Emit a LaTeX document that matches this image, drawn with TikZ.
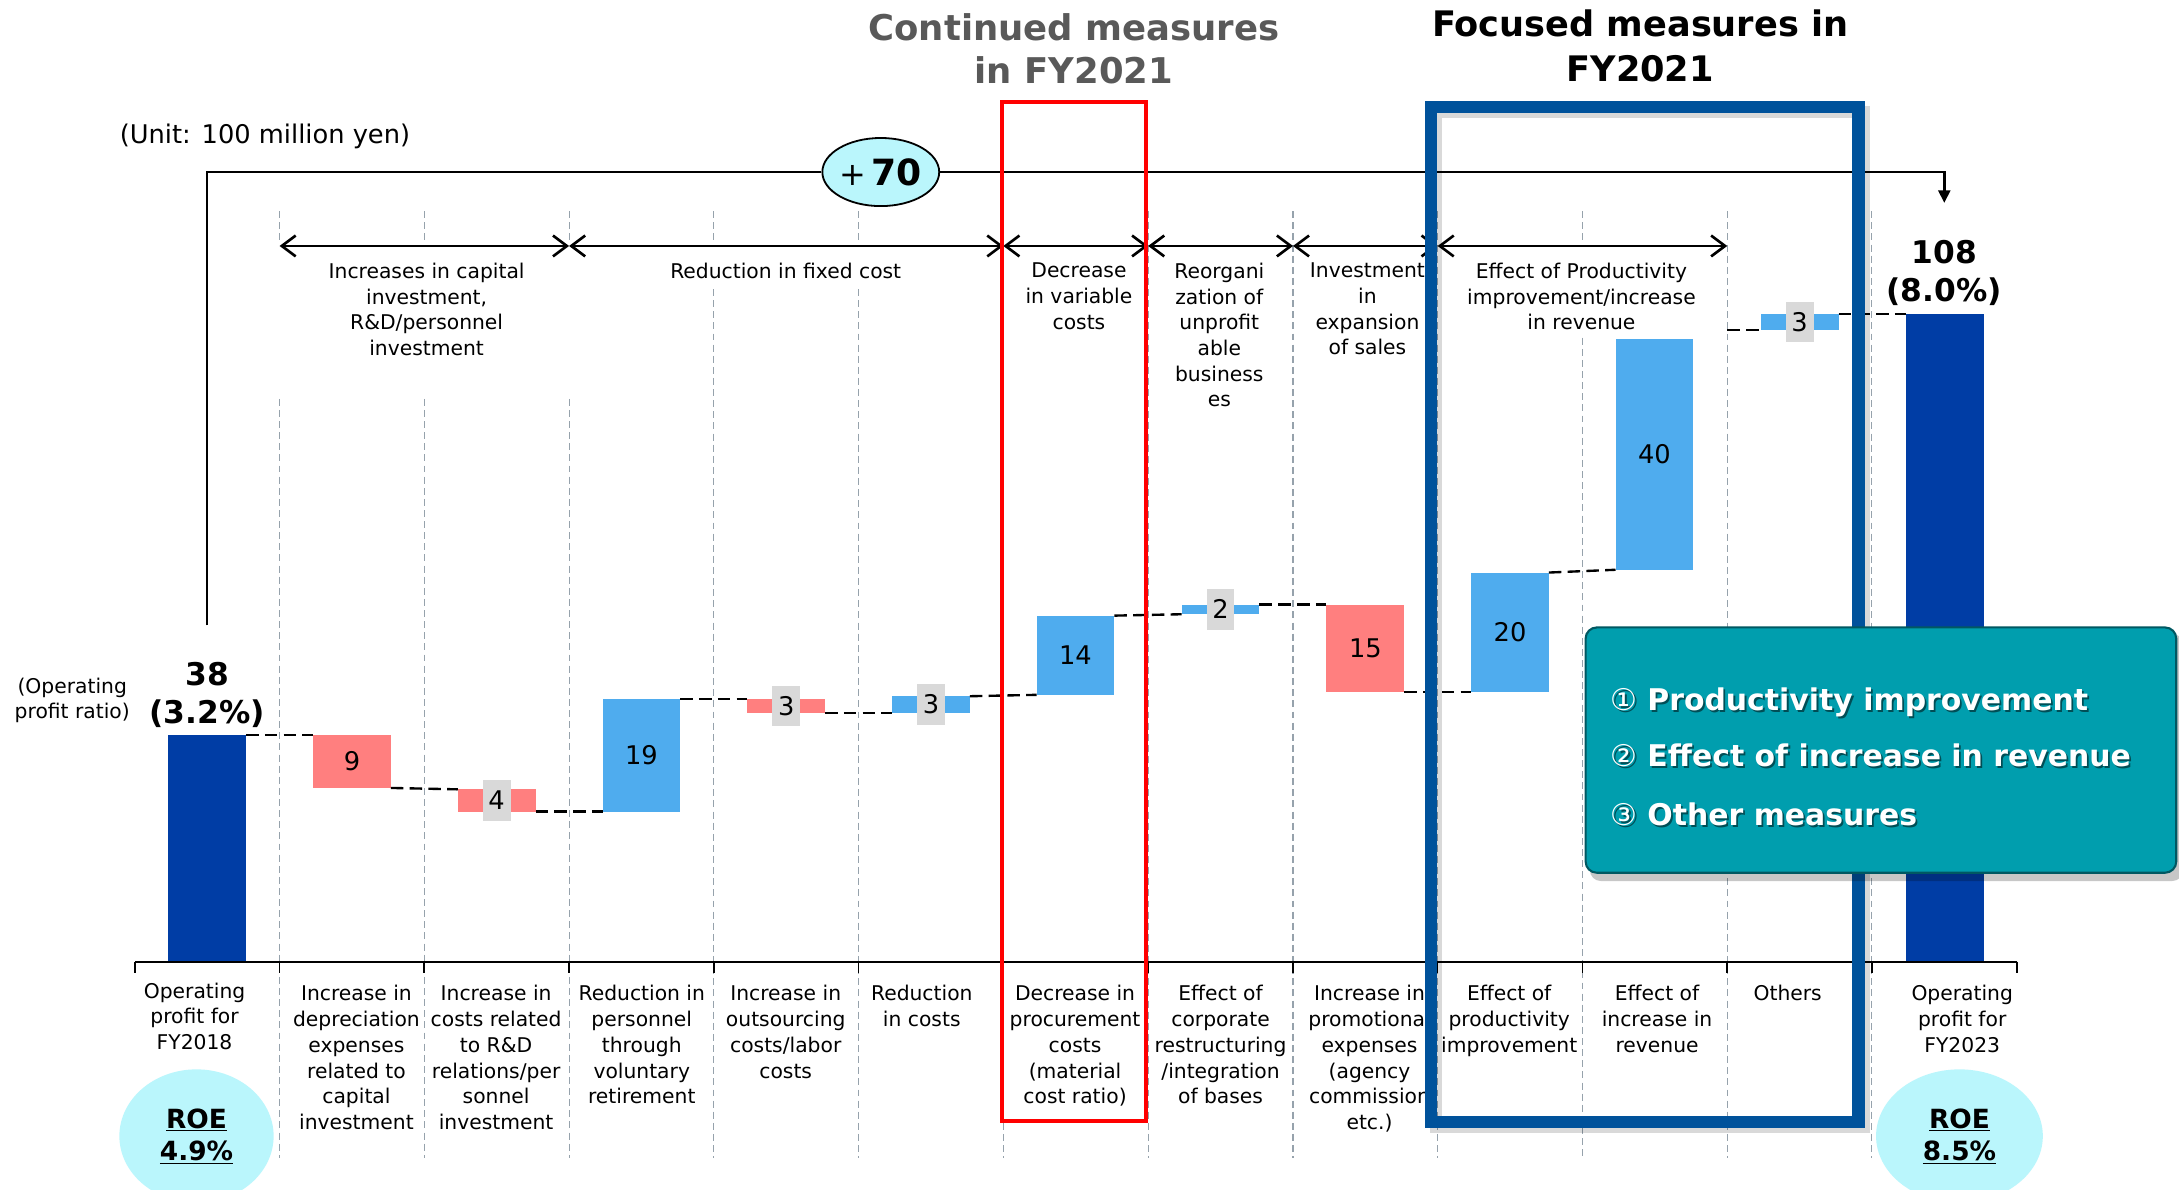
\documentclass[tikz,border=0pt]{standalone}
\usepackage{fontspec}
\setmainfont{DejaVu Sans}
\usetikzlibrary{arrows.meta,shapes.geometric}
\definecolor{dblue}{RGB}{0,61,165}
\definecolor{lblue}{RGB}{79,172,238}
\definecolor{pinkr}{RGB}{255,127,127}
\definecolor{lgray}{RGB}{217,217,217}
\definecolor{cyanl}{RGB}{186,246,252}
\definecolor{tealb}{RGB}{0,158,174}
\definecolor{tealdark}{RGB}{0,88,98}
\definecolor{frameblue}{RGB}{0,82,155}
\definecolor{sepgray}{RGB}{150,162,172}
\definecolor{titlegray}{RGB}{89,89,89}
\newcommand\setfs[2]{\fontsize{#1pt}{#2pt}\selectfont}
\begin{document}
\begin{tikzpicture}[x=1pt,y=-1pt,
  barbox/.style={draw=none,inner sep=0pt,outer sep=0pt,minimum width=56pt,font=\setfs{18.5}{20}},
  tagbox/.style={fill=lgray,inner sep=0pt,outer sep=0pt,minimum width=20pt,minimum height=29pt,font=\setfs{18.5}{20}},
  connline/.style={black,line width=1.7pt,dash pattern=on 9pt off 4.5pt},
  sepline/.style={sepgray,line width=0.8pt,dash pattern=on 5pt off 3pt},
  spanarrow/.style={line width=1.9pt,{Straight Barb[length=10pt,width=15pt]}-{Straight Barb[length=10pt,width=15pt]}},
  lbltext/.style={align=center,anchor=north,inner sep=0pt,font=\setfs{14.6}{18.5}},
  bigval/.style={align=center,anchor=north,inner sep=0pt,font=\bfseries\setfs{22.5}{27.5}},
  roetext/.style={ellipse,fill=cyanl,inner sep=0pt,minimum height=96pt,align=center,font=\bfseries\setfs{19}{23.4}},
  calltext/.style={anchor=base west,inner sep=0pt,font=\bfseries\setfs{21.5}{21.5}},
]
\useasboundingbox (0,0) rectangle (1568,856);
\clip (0,0) rectangle (1568,856);
\fill[white] (0,0) rectangle (1568,856);

% dashed column separators
\foreach \x/\a/\b in {201.2/152/175, 201.2/287/833, 305.3/152/175, 305.3/287/833,
  409.5/152/175, 409.5/287/833, 513.7/152/175, 513.7/208/833, 617.8/152/175, 617.8/208/833,
  722/152/833, 826.2/152/833, 930.4/152/833, 1034.5/152/833, 1138.7/152/175, 1138.7/243/833,
  1242.9/152/833, 1347/152/833}
  \draw[sepline] (\x,\a) -- (\x,\b);

% titles and unit
\node[align=center,anchor=north,inner sep=0pt,text=titlegray,font=\bfseries\setfs{25.5}{31.4}] (ttl1) at (772.8,9.4) {Continued measures\\in FY2021};
\node[align=center,anchor=north,inner sep=0pt,font=\bfseries\setfs{25.3}{32.4}] (ttl2) at (1180.3,7) {Focused measures in\\FY2021};
\node[anchor=west,inner sep=0pt,font=\setfs{18.5}{20}] (unit) at (86,98.4) {(Unit: 100 million yen)};

% total bracket with +70
\node[ellipse,draw=black,line width=1.3pt,fill=cyanl,minimum width=78pt,minimum height=49pt,inner sep=0pt] (plus) at (633.8,123.8) {{\setfs{23}{23}+}\hspace{4pt}{\bfseries\setfs{26}{26}70}};
\coordinate (bk0) at (149.1,450);
\coordinate (bk1) at (1399.1,146);
\draw[line width=1.8pt] (bk0) |- (plus.west);
\draw[line width=2pt,-{Triangle[length=9pt,width=8.5pt]}] (plus.east) -| (bk1);

% span arrows
\coordinate (p0) at (201.2,177);
\coordinate (p1) at (409.5,177);
\coordinate (p2) at (722,177);
\coordinate (p3) at (826.2,177);
\coordinate (p4) at (930.4,177);
\coordinate (p5) at (1034.5,177);
\coordinate (p6) at (1242.9,177);
\draw[spanarrow] (p0) -- (p1);
\draw[spanarrow] (p1) -- (p2);
\draw[spanarrow] (p2) -- (p3);
\draw[spanarrow] (p3) -- (p4);
\draw[spanarrow] (p4) -- (p5);
\draw[spanarrow] (p5) -- (p6);

% span labels
\node[lbltext] (t1) at (307,189) {Increases in capital\\investment,\\R\&D/personnel\\investment};
\node[lbltext] (t2) at (565.4,189) {Reduction in fixed cost};
\node[lbltext] (t3) at (776.4,189) {Decrease\\in variable\\costs};
\node[lbltext] (t4) at (877.4,189) {Reorgani\\zation of\\unprofit\\able\\business\\es};
\node[lbltext] (t5) at (984,189) {Investment\\in\\expansion\\of sales};
\node[lbltext] (t6) at (1138,189) {Effect of Productivity\\improvement/increase\\in revenue};

% bars
\node[barbox,fill=dblue,minimum height=163pt] (b38) at (149.1,610.5) {};
\node[barbox,fill=pinkr,minimum height=38pt] (b9) at (253.3,548) {9};
\node[barbox,fill=pinkr,minimum height=16pt] (b4) at (357.4,576) {};
\node[barbox,fill=lblue,minimum height=81pt] (b19) at (461.6,543.5) {19};
\node[barbox,fill=pinkr,minimum height=10pt] (r3) at (565.8,508) {};
\node[barbox,fill=lblue,minimum height=12pt] (bl3) at (669.9,507) {};
\node[barbox,fill=lblue,minimum height=57pt] (b14) at (773.9,471.5) {14};
\node[barbox,fill=lblue,minimum height=7pt] (b2) at (878.3,438.5) {};
\node[barbox,fill=pinkr,minimum height=63pt] (b15) at (982.5,466.5) {15};
\node[barbox,fill=lblue,minimum height=86pt] (b20) at (1086.6,455) {20};
\node[barbox,fill=lblue,minimum height=166pt] (b40) at (1190.5,327) {40};
\node[barbox,fill=lblue,minimum height=11.5pt] (o3) at (1295,231.75) {};
\node[barbox,fill=dblue,minimum height=466pt] (b108) at (1399.3,459) {};

% tags on small bars
\node[tagbox] (lb4) at (b4.center) {4};
\node[tagbox] (lr3) at (r3.center) {3};
\node[tagbox] (lbl3) at (bl3.center) {3};
\node[tagbox] (lb2) at (b2.center) {2};
\node[tagbox] (lo3) at (o3.center) {3};

% connectors
\draw[connline] (b38.north east) -- (b9.north west);
\draw[connline] (b9.south east) -- (b4.north west);
\draw[connline] (b4.south east) -- (b19.south west);
\draw[connline] (b19.north east) -- (r3.north west);
\draw[connline] (r3.south east) -- (bl3.south west);
\draw[connline] (bl3.north east) -- (b14.south west);
\draw[connline] (b14.north east) -- (b2.south west);
\draw[connline] (b2.north east) -- (b15.north west);
\draw[connline] (b15.south east) -- (b20.south west);
\draw[connline] (b20.north east) -- (b40.south west);
\coordinate (d40) at (1243,237.5);
\draw[connline] (d40) -- (o3.south west);
\draw[connline] (o3.north east) -- (b108.north west);

% axis
\coordinate (ax0) at (97,692);
\coordinate (ax1) at (1451.2,692);
\draw[line width=1.5pt] (ax0) -- (ax1);
\foreach \x in {97,201.2,305.3,409.5,513.7,617.8,722,826.2,930.4,1034.5,1138.7,1242.9,1347,1451.2}
  \draw[line width=1.2pt] (\x,692) -- (\x,700);

% value labels
\node[bigval] (v38) at (149.1,476.5) {38\\(3.2\%)};
\node[bigval] (v108) at (1399.1,172.5) {108\\(8.0\%)};
\node[lbltext] (opr) at (52,487.5) {(Operating\\profit ratio)};

% bottom labels
\node[lbltext] (l1) at (140,707) {Operating\\profit for\\FY2018};
\node[lbltext] (l2) at (256.5,709) {Increase in\\depreciation\\expenses\\related to\\capital\\investment};
\node[lbltext] (l3) at (357,709) {Increase in\\costs related\\to R\&D\\relations/per\\sonnel\\investment};
\node[lbltext] (l4) at (461.8,709) {Reduction in\\personnel\\through\\voluntary\\retirement};
\node[lbltext] (l5) at (565.4,709) {Increase in\\outsourcing\\costs/labor\\costs};
\node[lbltext] (l6) at (663.3,709) {Reduction\\in costs};
\node[lbltext] (l7) at (773.6,709) {Decrease in\\procurement\\costs\\(material\\cost ratio)};
\node[lbltext] (l8) at (878.3,709) {Effect of\\corporate\\restructuring\\/integration\\of bases};
\node[lbltext] (l9) at (985.5,709) {Increase in\\promotional\\expenses\\(agency\\commission\\etc.)};
\node[lbltext] (l10) at (1086,709) {Effect of\\productivity\\improvement};
\node[lbltext] (l11) at (1192.4,709) {Effect of\\increase in\\revenue};
\node[lbltext] (l12) at (1286.4,709) {Others};
\node[lbltext] (l13) at (1412,709) {Operating\\profit for\\FY2023};

% red box
\draw[red,line width=3pt] (721,73.2) rectangle (824.5,806.5);

% blue frame with shadow
\draw[black,opacity=0.15,line width=9pt] (1033.4,80.6) rectangle (1340.8,811);
\draw[frameblue,line width=8.8pt] (1029.9,77.1) rectangle (1337.3,807.5);

% ROE ellipses
\node[roetext,minimum width=111pt] (e1) at (141.4,817.5) {\underline{ROE}\\\underline{4.9\%}};
\node[roetext,minimum width=120pt] (e2) at (1410,817.5) {\underline{ROE}\\\underline{8.5\%}};

% callout
\fill[black,opacity=0.22,rounded corners=8pt] (1144,456) rectangle (1571,634);
\node[draw=tealdark,fill=tealb,line width=1.5pt,rounded corners=8pt,minimum width=425pt,minimum height=176.5pt,inner sep=0pt] (callout) at (1353.5,539.75) {};
\node[calltext,text=black,opacity=0.5] (s1) at (1159.8,512.4) {{\mdseries ①} Productivity improvement};
\node[calltext,text=white] (c1) at (1158.5,511) {{\mdseries ①} Productivity improvement};
\node[calltext,text=black,opacity=0.5] (s2) at (1159.8,553.1) {{\mdseries ②} Effect of increase in revenue};
\node[calltext,text=white] (c2) at (1158.5,551.7) {{\mdseries ②} Effect of increase in revenue};
\node[calltext,text=black,opacity=0.5] (s3) at (1159.8,595.1) {{\mdseries ③} Other measures};
\node[calltext,text=white] (c3) at (1158.5,593.7) {{\mdseries ③} Other measures};
\end{tikzpicture}
\end{document}
